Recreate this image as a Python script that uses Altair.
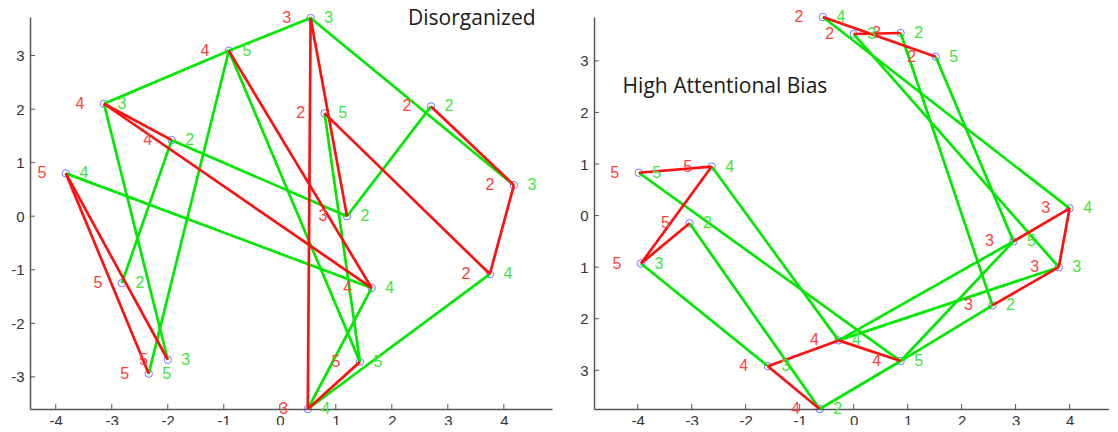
import altair as alt
import pandas as pd

# ---------------- Left panel: "Disorganized" ----------------
L_x = [-3.82, -3.14, -1.93, -0.91, 0.55, 0.80, 2.70, 4.18, 1.20, 3.75, 1.64, 1.43, 0.50, -2.82, -2.00, -2.34]
L_y = [0.80, 2.10, 1.42, 3.09, 3.70, 1.92, 2.05, 0.58, 0.00, -1.08, -1.34, -2.72, -3.60, -1.25, -2.68, -2.94]
L_red = ["5", "4", "4", "4", "3", "2", "2", "2", "3", "2", "4", "5", "3", "5", "5", "5"]
L_green = ["4", "3", "2", "5", "3", "5", "2", "3", "2", "4", "4", "5", "4", "2", "3", "5"]
# edges as 1-based point numbers
L_green_edges = [(2, 4), (4, 5), (5, 8), (7, 9), (10, 13), (13, 11), (6, 12), (3, 9),
                 (1, 11), (4, 12), (4, 16), (2, 15), (3, 14)]
L_red_edges = [(7, 8), (8, 10), (13, 12), (13, 5), (5, 9), (6, 10), (2, 11), (2, 3),
               (4, 11), (1, 16), (1, 15)]
L_title = "Disorganized"
L_title_pos = (2.29, 3.57)

# ---------------- Right panel: "High Attentional Bias" ----------------
R_x = [-0.57, 0.00, 0.87, 1.52, 4.00, 2.96, 3.80, 2.57, 0.87, -0.28, -1.59, -0.63, -3.94, -3.04, -3.98, -2.63]
R_y = [3.85, 3.52, 3.54, 3.08, 0.14, -0.50, -1.00, -1.74, -2.82, -2.42, -2.92, -3.75, -0.93, -0.15, 0.83, 0.95]
R_red = ["2", "2", "3", "2", "3", "3", "3", "3", "4", "4", "4", "4", "5", "5", "5", "5"]
R_green = ["4", "3", "2", "5", "4", "5", "3", "2", "5", "4", "3", "2", "3", "2", "5", "4"]
R_green_edges = [(1, 5), (2, 7), (3, 8), (4, 6), (15, 9), (16, 10), (14, 12), (13, 11),
                 (10, 6), (10, 7), (9, 6), (9, 8), (12, 9)]
R_red_edges = [(1, 4), (2, 3), (15, 16), (16, 13), (13, 14), (11, 10), (11, 12), (10, 9),
               (8, 7), (7, 5), (6, 5)]
R_title = "High Attentional Bias"
R_title_pos = (-4.28, 2.38)

TICKS_X = [-4, -3, -2, -1, 0, 1, 2, 3, 4]
TICKS_Y = [-3, -2, -1, 0, 1, 2, 3]

H = 392
RED_LINE = "#ff1010"
GREEN_LINE = "#00e800"
RED_TXT = "#ff4040"
GREEN_TXT = "#3ee63e"
AXIS_COL = "#555555"
FONT = "Liberation Sans"
SIGNED = "(datum.value < 0 ? '-' : '') + abs(datum.value)"
UNSIGNED = "'' + abs(datum.value)"


def panel(xs, ys, reds, greens, g_edges, r_edges, xdom, ydom, title, tpos, width, abs_y=False):
    pts = pd.DataFrame({"x": xs, "y": ys, "red": reds, "green": greens})
    rows = []
    for kind, edges in (("g", g_edges), ("r", r_edges)):
        for a, b in edges:
            rows.append({"x": xs[a - 1], "y": ys[a - 1], "x2": xs[b - 1], "y2": ys[b - 1], "kind": kind})
    ed = pd.DataFrame(rows)
    xsc = alt.Scale(domain=xdom, nice=False, zero=False)
    ysc = alt.Scale(domain=ydom, nice=False, zero=False)

    common = dict(ticks=False, tickSize=0, grid=False,
                  domainColor=AXIS_COL, domainWidth=1.5, labelFontSize=15, labelColor="#333333",
                  labelFont=FONT, title=None)
    xaxis = alt.Axis(values=TICKS_X, labelExpr=SIGNED, labelPadding=4, **common)
    yaxis = alt.Axis(values=TICKS_Y, labelExpr=(UNSIGNED if abs_y else SIGNED), labelPadding=6, **common)

    X = alt.X("x:Q", scale=xsc, axis=xaxis, title=None)
    Y = alt.Y("y:Q", scale=ysc, axis=yaxis, title=None)

    base_pts = alt.Chart(pts)
    circles = base_pts.mark_point(shape="circle", filled=False, color="#3a3aff", size=55,
                                  strokeWidth=1).encode(x=X, y=Y)
    green_lines = alt.Chart(ed[ed.kind == "g"]).mark_rule(color=GREEN_LINE, strokeWidth=2.7).encode(
        x=X, y=Y, x2="x2:Q", y2="y2:Q")
    red_lines = alt.Chart(ed[ed.kind == "r"]).mark_rule(color=RED_LINE, strokeWidth=2.7).encode(
        x=X, y=Y, x2="x2:Q", y2="y2:Q")
    red_txt = base_pts.mark_text(color=RED_TXT, fontSize=16, font=FONT, dx=-24,
                                 align="center", baseline="middle").encode(x=X, y=Y, text="red:N")
    green_txt = base_pts.mark_text(color=GREEN_TXT, fontSize=16, font=FONT, dx=18,
                                   align="center", baseline="middle").encode(x=X, y=Y, text="green:N")
    ttl = alt.Chart(pd.DataFrame({"x": [tpos[0]], "y": [tpos[1]], "t": [title]})).mark_text(
        font="Open Sans", fontSize=21, color="#1a1a1a", align="left", baseline="alphabetic").encode(
        x=X, y=Y, text="t:N")
    xt = alt.Chart(pd.DataFrame({"x": TICKS_X})).mark_rule(color=AXIS_COL, strokeWidth=1).encode(
        x=X, y=alt.value(H), y2=alt.value(H - 5))
    yt = alt.Chart(pd.DataFrame({"y": TICKS_Y})).mark_rule(color=AXIS_COL, strokeWidth=1).encode(
        y=Y, x=alt.value(0), x2=alt.value(5))

    return alt.layer(circles, green_lines, red_lines, red_txt, green_txt, ttl, xt, yt).properties(
        width=width, height=H)


left = panel(L_x, L_y, L_red, L_green, L_green_edges, L_red_edges,
             [-4.46, 4.86], [-3.60, 3.72], L_title, L_title_pos, 522)
right = panel(R_x, R_y, R_red, R_green, R_green_edges, R_red_edges,
              [-4.81, 4.73], [-3.75, 3.85], R_title, R_title_pos, 515, abs_y=True)

chart = alt.hconcat(left, right, spacing=27).properties(
    padding={"left": 2, "top": 0, "right": 0, "bottom": -3},
    background="white",
).configure_view(stroke=None)

chart.save("out.html", embed_options={"renderer": "svg", "actions": False})
